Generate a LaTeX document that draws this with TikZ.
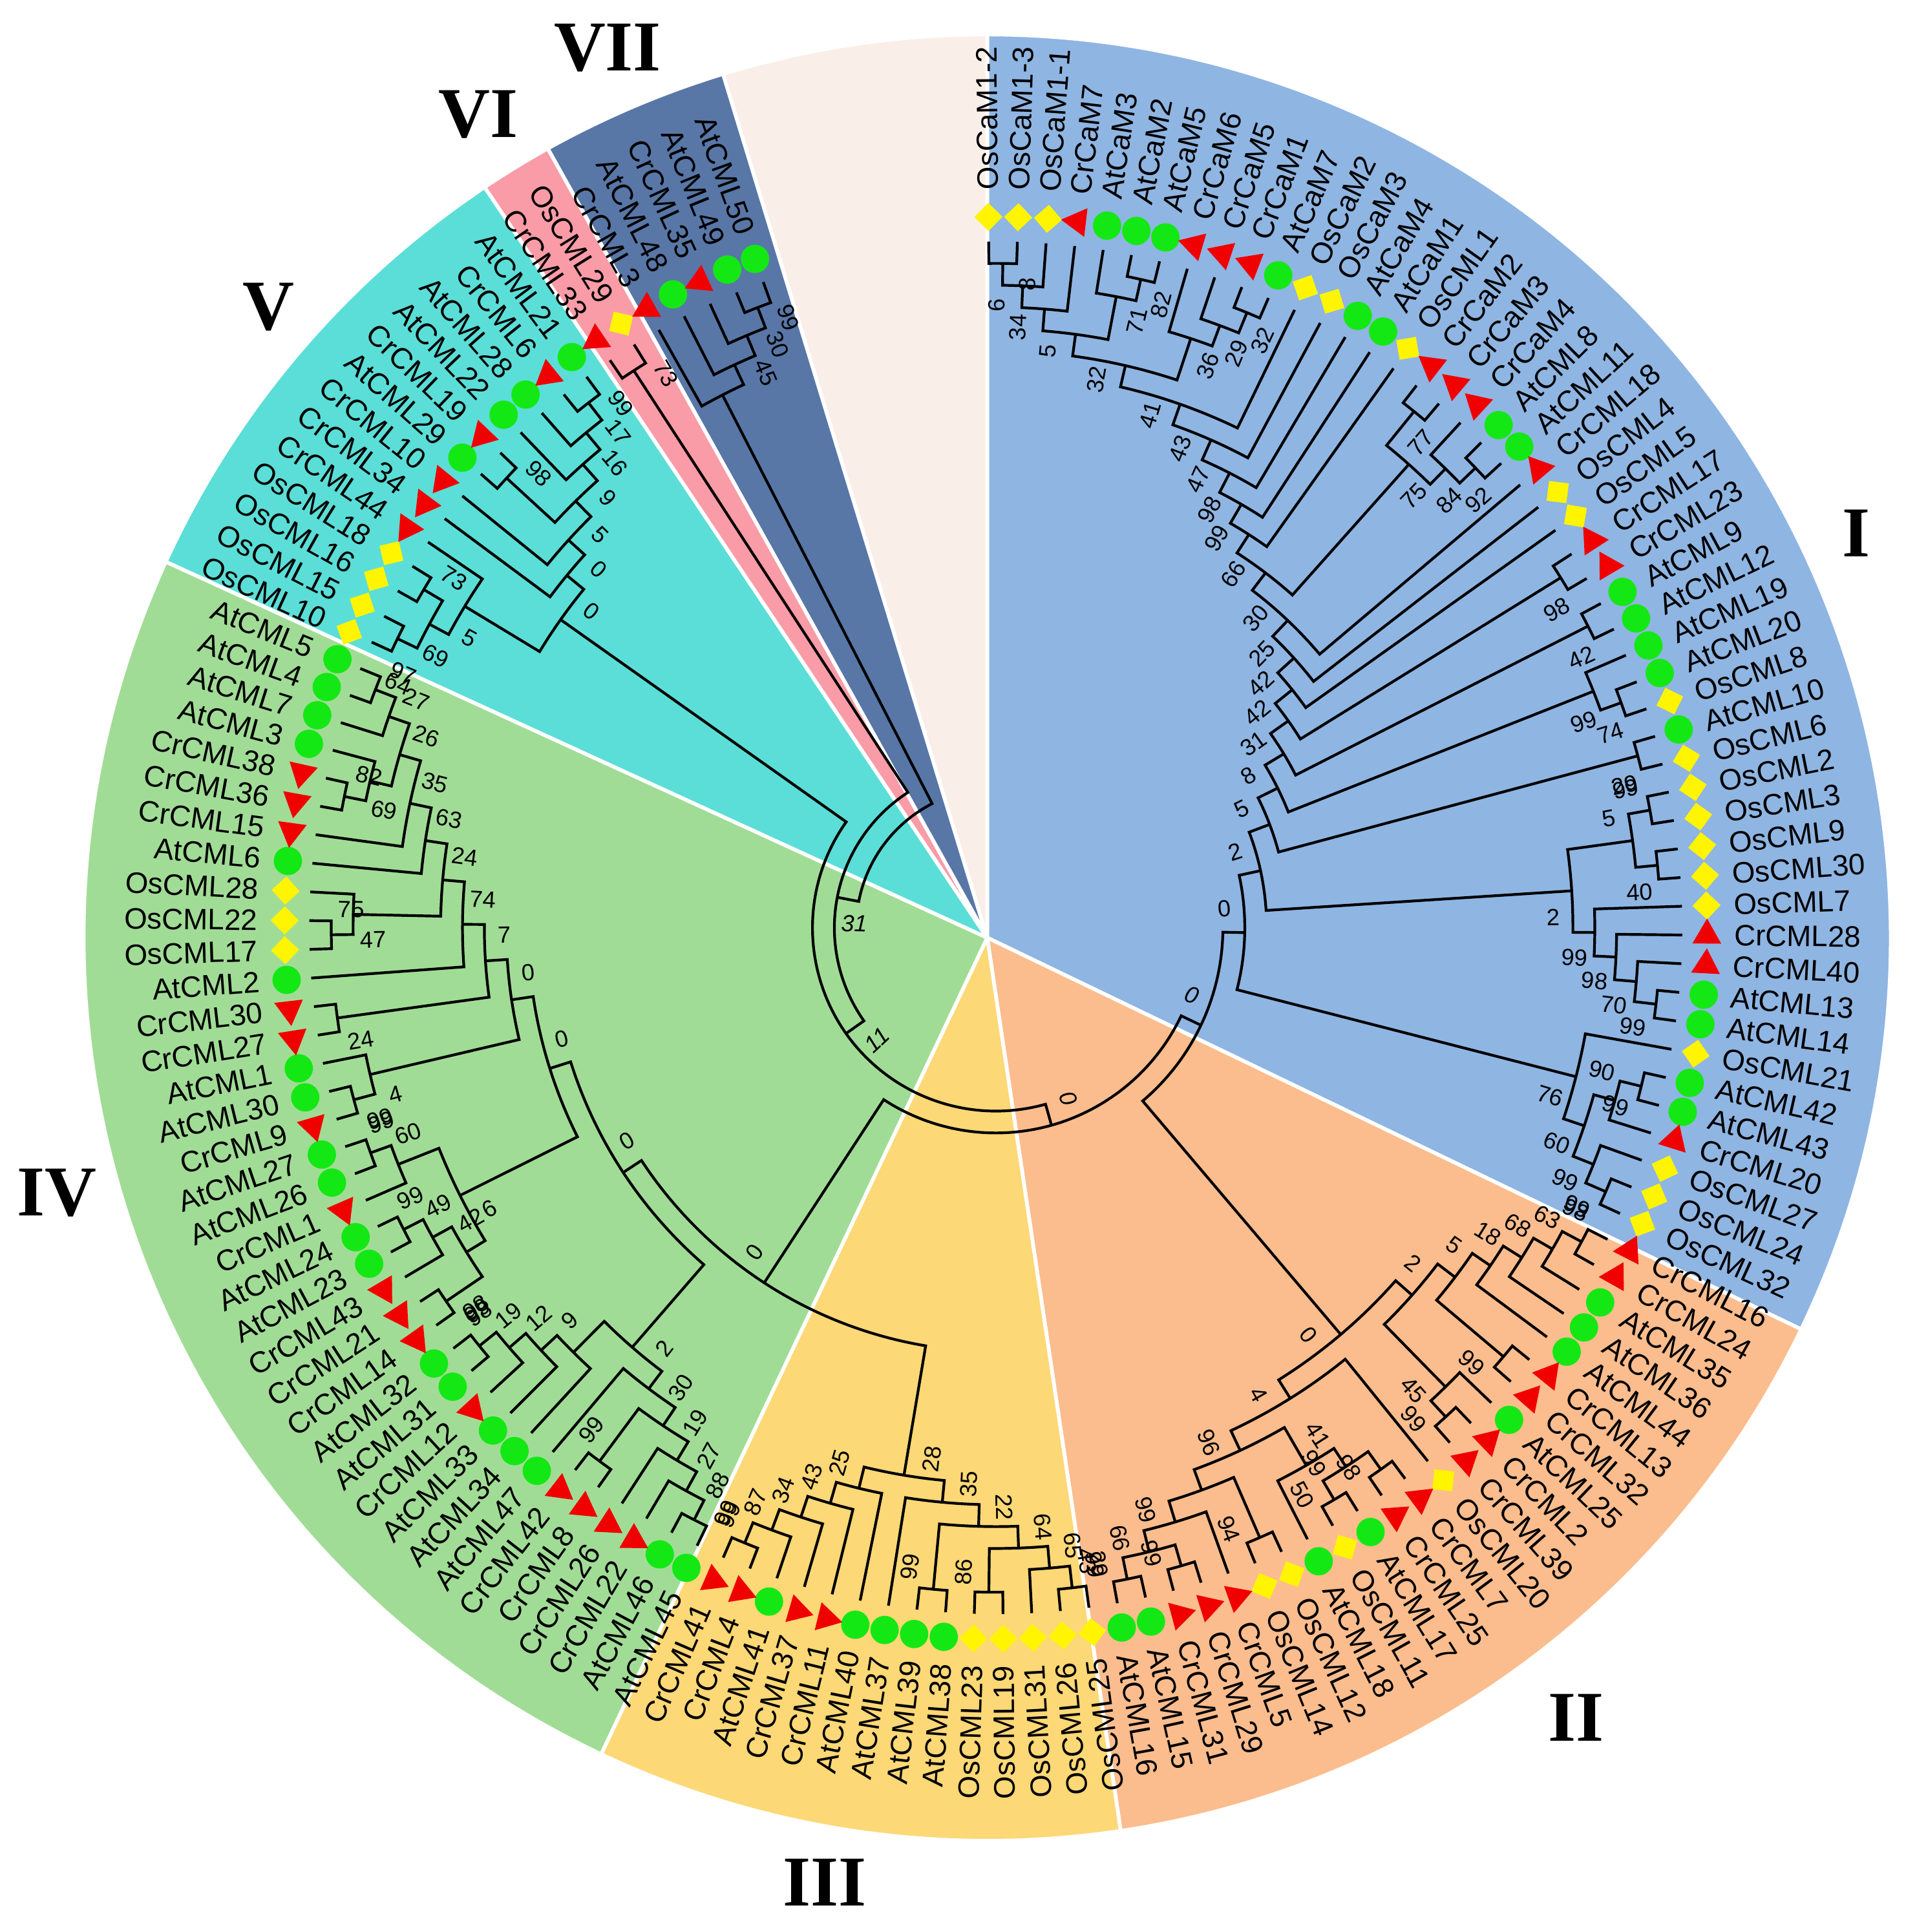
\documentclass[tikz,border=0pt]{standalone}
\usepackage{fontspec}
\setmainfont{Liberation Sans}
\newfontfamily\romanfont{Liberation Serif}
\usetikzlibrary{shapes.geometric}
\definecolor{cI}{RGB}{143,181,226}
\definecolor{cII}{RGB}{251,189,142}
\definecolor{cIII}{RGB}{253,216,118}
\definecolor{cIV}{RGB}{161,220,150}
\definecolor{cV}{RGB}{91,222,215}
\definecolor{cVI}{RGB}{249,156,167}
\definecolor{cVII}{RGB}{88,119,167}
\definecolor{cPale}{RGB}{250,238,233}
\definecolor{mkgreen}{RGB}{20,232,20}
\definecolor{mkred}{RGB}{240,0,0}
\definecolor{mkyellow}{RGB}{255,245,0}
\newcommand\tipR{557}
\newcommand\mkR{577}
\newcommand\lbR{599}
\newcommand\stp{17.75}
\newcommand\setv[3]{\expandafter\xdef\csname #1@#2\endcsname{#3}}
\newcommand\getv[2]{\csname #1@#2\endcsname}
\newcommand\leaf[3]{%
  \pgfmathsetmacro\la{90.6-2.4*#1}%
  \setv{A}{L#1}{\la}\setv{H}{L#1}{0}%
  \coordinate (L#1) at (\la:\tipR pt);
  \if g#2\node[mkg] (M#1) at (\la:\mkR pt) {};\fi
  \if r#2\node[mkr, rotate=\la] (M#1) at (\la:\mkR pt) {};\fi
  \if y#2\node[mky, rotate=\la] (M#1) at (\la:\mkR pt) {};\fi
  \pgfmathtruncatemacro\fl{\la<-81}%
  \ifnum\fl=1 \node[leaflab, anchor=east, rotate=\la+180] (T#1) at (\la:\lbR pt) {#3};%
  \else \node[leaflab, anchor=west, rotate=\la] (T#1) at (\la:\lbR pt) {#3};\fi
}
\newcommand\nd[4][0]{%
  \gdef\amin{1000}\gdef\amax{-1000}\gdef\hmax{-1}\gdef\tie{0}\gdef\abig{0}%
  \foreach \c in {#3}{%
    \edef\ca{\getv{A}{\c}}\edef\ch{\getv{H}{\c}}%
    \ifdim\ca pt<\amin pt \xdef\amin{\ca}\xdef\cmin{\c}\fi
    \ifdim\ca pt>\amax pt \xdef\amax{\ca}\xdef\cmax{\c}\fi
    \ifdim\ch pt>\hmax pt \xdef\hmax{\ch}\xdef\abig{\ca}\gdef\tie{0}%
    \else\ifdim\ch pt=\hmax pt \gdef\tie{1}\fi\fi
  }%
  \pgfmathsetmacro\nh{\hmax+1}%
  \pgfmathsetmacro\nr{\tipR-\nh*\stp}%
  \pgfmathsetmacro\na{(\amin+\amax)/2}%
  \setv{A}{#2}{\na}\setv{H}{#2}{\nh}%
  \coordinate (#2) at (\na:\nr pt);
  \draw[br] (\cmin) -- (\amin:\nr pt) arc[start angle=\amin, end angle=\amax, radius=\nr pt] -- (\cmax);
  \ifnum#1=0
    \ifnum\tie=1 \def\dir{-1}\else\ifdim\abig pt>\na pt \def\dir{1}\else\def\dir{-1}\fi\fi
  \else\def\dir{#1}\fi
  \pgfmathsetmacro\lla{\na+\dir*21/\nr*57.29578}%
  \pgfmathsetmacro\llr{\nr-16}%
  \pgfmathtruncatemacro\fl{\lla<-90}%
  \ifnum\fl=1 \pgfmathsetmacro\rot{\lla+180}\else\pgfmathsetmacro\rot{\lla}\fi
  \node[bslab, rotate=\rot] (B#2) at (\lla:\llr pt) {#4};
}
\newcommand\csector[3]{\filldraw[fill=#1, draw=white, line width=3pt, line join=round] (apex) -- ++(#2:733pt) arc[start angle=#2, end angle=#3, radius=733pt] -- cycle;}
\begin{document}
\begin{tikzpicture}[x=1pt,y=1pt,
  br/.style={draw=black, line width=2.2pt},
  mkg/.style={circle, fill=mkgreen, minimum size=23pt, inner sep=0pt},
  mkr/.style={regular polygon, regular polygon sides=3, fill=mkred, minimum size=27pt, inner sep=0pt},
  mky/.style={diamond, aspect=1, fill=mkyellow, minimum size=23pt, inner sep=0pt},
  leaflab/.style={font=\fontsize{24}{28}\selectfont, inner sep=0pt},
  bslab/.style={font=\fontsize{19}{22}\selectfont, inner sep=0pt},
  roman/.style={font=\romanfont\bfseries\fontsize{58}{60}\selectfont, inner sep=0pt}]
\useasboundingbox (-808,-815) rectangle (738,753);
\coordinate (apex) at (-7,-8);
\csector{cI}{-25.7}{90}
\csector{cII}{-81.5}{-25.7}
\csector{cIII}{-115.3}{-81.5}
\csector{cIV}{-204.6}{-115.3}
\csector{cV}{-236.2}{-204.6}
\csector{cVI}{-240.9}{-236.2}
\csector{cVII}{-253}{-240.9}
\csector{cPale}{-270}{-253}
% leaves
\leaf{0}{y}{OsCaM1-2}
\leaf{1}{y}{OsCaM1-3}
\leaf{2}{y}{OsCaM1-1}
\leaf{3}{r}{CrCaM7}
\leaf{4}{g}{AtCaM3}
\leaf{5}{g}{AtCaM2}
\leaf{6}{g}{AtCaM5}
\leaf{7}{r}{CrCaM6}
\leaf{8}{r}{CrCaM5}
\leaf{9}{r}{CrCaM1}
\leaf{10}{g}{AtCaM7}
\leaf{11}{y}{OsCaM2}
\leaf{12}{y}{OsCaM3}
\leaf{13}{g}{AtCaM4}
\leaf{14}{g}{AtCaM1}
\leaf{15}{y}{OsCML1}
\leaf{16}{r}{CrCaM2}
\leaf{17}{r}{CrCaM3}
\leaf{18}{r}{CrCaM4}
\leaf{19}{g}{AtCML8}
\leaf{20}{g}{AtCML11}
\leaf{21}{r}{CrCML18}
\leaf{22}{y}{OsCML4}
\leaf{23}{y}{OsCML5}
\leaf{24}{r}{CrCML17}
\leaf{25}{r}{CrCML23}
\leaf{26}{g}{AtCML9}
\leaf{27}{g}{AtCML12}
\leaf{28}{g}{AtCML19}
\leaf{29}{g}{AtCML20}
\leaf{30}{y}{OsCML8}
\leaf{31}{g}{AtCML10}
\leaf{32}{y}{OsCML6}
\leaf{33}{y}{OsCML2}
\leaf{34}{y}{OsCML3}
\leaf{35}{y}{OsCML9}
\leaf{36}{y}{OsCML30}
\leaf{37}{y}{OsCML7}
\leaf{38}{r}{CrCML28}
\leaf{39}{r}{CrCML40}
\leaf{40}{g}{AtCML13}
\leaf{41}{g}{AtCML14}
\leaf{42}{y}{OsCML21}
\leaf{43}{g}{AtCML42}
\leaf{44}{g}{AtCML43}
\leaf{45}{r}{CrCML20}
\leaf{46}{y}{OsCML27}
\leaf{47}{y}{OsCML24}
\leaf{48}{y}{OsCML32}
\leaf{49}{r}{CrCML16}
\leaf{50}{r}{CrCML24}
\leaf{51}{g}{AtCML35}
\leaf{52}{g}{AtCML36}
\leaf{53}{g}{AtCML44}
\leaf{54}{r}{CrCML13}
\leaf{55}{r}{CrCML32}
\leaf{56}{g}{AtCML25}
\leaf{57}{r}{CrCML2}
\leaf{58}{r}{CrCML39}
\leaf{59}{y}{OsCML20}
\leaf{60}{r}{CrCML7}
\leaf{61}{r}{CrCML25}
\leaf{62}{g}{AtCML17}
\leaf{63}{y}{OsCML11}
\leaf{64}{g}{AtCML18}
\leaf{65}{y}{OsCML12}
\leaf{66}{y}{OsCML14}
\leaf{67}{r}{CrCML5}
\leaf{68}{r}{CrCML29}
\leaf{69}{r}{CrCML31}
\leaf{70}{g}{AtCML15}
\leaf{71}{g}{AtCML16}
\leaf{72}{y}{OsCML25}
\leaf{73}{y}{OsCML26}
\leaf{74}{y}{OsCML31}
\leaf{75}{y}{OsCML19}
\leaf{76}{y}{OsCML23}
\leaf{77}{g}{AtCML38}
\leaf{78}{g}{AtCML39}
\leaf{79}{g}{AtCML37}
\leaf{80}{g}{AtCML40}
\leaf{81}{r}{CrCML11}
\leaf{82}{r}{CrCML37}
\leaf{83}{g}{AtCML41}
\leaf{84}{r}{CrCML4}
\leaf{85}{r}{CrCML41}
\leaf{86}{g}{AtCML45}
\leaf{87}{g}{AtCML46}
\leaf{88}{r}{CrCML22}
\leaf{89}{r}{CrCML26}
\leaf{90}{r}{CrCML8}
\leaf{91}{r}{CrCML42}
\leaf{92}{g}{AtCML47}
\leaf{93}{g}{AtCML34}
\leaf{94}{g}{AtCML33}
\leaf{95}{r}{CrCML12}
\leaf{96}{g}{AtCML31}
\leaf{97}{g}{AtCML32}
\leaf{98}{r}{CrCML14}
\leaf{99}{r}{CrCML21}
\leaf{100}{r}{CrCML43}
\leaf{101}{g}{AtCML23}
\leaf{102}{g}{AtCML24}
\leaf{103}{r}{CrCML1}
\leaf{104}{g}{AtCML26}
\leaf{105}{g}{AtCML27}
\leaf{106}{r}{CrCML9}
\leaf{107}{g}{AtCML30}
\leaf{108}{g}{AtCML1}
\leaf{109}{r}{CrCML27}
\leaf{110}{r}{CrCML30}
\leaf{111}{g}{AtCML2}
\leaf{112}{y}{OsCML17}
\leaf{113}{y}{OsCML22}
\leaf{114}{y}{OsCML28}
\leaf{115}{g}{AtCML6}
\leaf{116}{r}{CrCML15}
\leaf{117}{r}{CrCML36}
\leaf{118}{r}{CrCML38}
\leaf{119}{g}{AtCML3}
\leaf{120}{g}{AtCML7}
\leaf{121}{g}{AtCML4}
\leaf{122}{g}{AtCML5}
\leaf{123}{y}{OsCML10}
\leaf{124}{y}{OsCML15}
\leaf{125}{y}{OsCML16}
\leaf{126}{y}{OsCML18}
\leaf{127}{r}{CrCML44}
\leaf{128}{r}{CrCML34}
\leaf{129}{r}{CrCML10}
\leaf{130}{g}{AtCML29}
\leaf{131}{r}{CrCML19}
\leaf{132}{g}{AtCML22}
\leaf{133}{g}{AtCML28}
\leaf{134}{r}{CrCML6}
\leaf{135}{g}{AtCML21}
\leaf{136}{r}{CrCML33}
\leaf{137}{y}{OsCML29}
\leaf{138}{r}{CrCML3}
\leaf{139}{g}{AtCML48}
\leaf{140}{r}{CrCML35}
\leaf{141}{g}{AtCML49}
\leaf{142}{g}{AtCML50}
% clade I
\nd{a8}{L0,L1}{8}
\nd{a6}{a8,L2}{6}
\nd{a34}{a6,L3}{34}
\nd{a82}{L5,L6}{82}
\nd{a71}{L4,a82}{71}
\nd{a5}{a34,a71}{5}
\nd{a32b}{L9,L10}{32}
\nd{a29}{L8,a32b}{29}
\nd{a36}{L7,a29}{36}
\nd{a32}{a5,a36}{32}
\nd{a41}{a32,L11}{41}
\nd{a43}{a41,L12}{43}
\nd{a47}{a43,L13}{47}
\nd{a98}{a47,L14}{98}
\nd{a99}{a98,L15}{99}
\nd{n77}{L16,L17}{77}
\nd{n92}{L19,L20}{92}
\nd{n84}{L18,n92}{84}
\nd{n75}{n77,n84}{75}
\nd{a66}{a99,n75}{66}
\nd{a30}{a66,L21}{30}
\nd{a25}{a30,L22}{25}
\nd{a42}{a25,L23}{42}
\nd{p98}{L24,L25}{98}
\nd{a42b}{a42,p98}{42}
\nd{p42}{L26,L27}{42}
\nd{a31}{a42b,p42}{31}
\nd{n74}{L29,L30}{74}
\nd{n99}{L28,n74}{99}
\nd{a8b}{a31,n99}{8}
\nd{nE}{L31,L32}{29}
\nd{a5b}{a8b,nE}{5}
\nd[1]{nA}{L33,L34}{99}
\nd{nB}{L35,L36}{40}
\nd[1]{nC}{nA,nB}{5}
\nd{m99a}{L40,L41}{99}
\nd{m70}{L39,m99a}{70}
\nd{m98}{L38,m70}{98}
\nd{m99}{L37,m98}{99}
\nd{nD}{nC,m99}{2}
\nd{a2}{a5b,nD}{2}
\nd{o99a}{L47,L48}{99}
\nd{o99b}{L46,o99a}{99}
\nd{o99c}{L43,L44}{99}
\nd{o90}{o99c,L45}{90}
\nd{o60}{o90,o99b}{60}
\nd{o76}{L42,o60}{76}
\nd{Iroot}{a2,o76}{0}
% clade II
\nd[1]{p1}{L49,L50}{98}
\nd{p2}{p1,L51}{63}
\nd{p3}{p2,L52}{68}
\nd{p4}{p3,L53}{18}
\nd{p5}{L54,L55}{99}
\nd{p6}{p4,p5}{5}
\nd{p7}{L57,L58}{99}
\nd{p8}{L56,p7}{45}
\nd{p9}{p6,p8}{2}
\nd{q1}{L60,L61}{98}
\nd{q2}{L62,L63}{50}
\nd{q3}{q1,q2}{99}
\nd{q4}{q3,L64}{41}
\nd{r1}{L65,L66}{94}
\nd{r3}{L68,L69}{99}
\nd{r2}{L70,L71}{29}
\nd{r4}{r3,r2}{66}
\nd{r5}{L67,r4}{99}
\nd{s1}{r1,r5}{}
\nd{s2}{q4,s1}{96}
\nd{s3}{L59,s2}{4}
\nd{IIroot}{p9,s3}{0}
% clade III
\nd{u1}{L84,L85}{99}
\nd{u2}{L83,u1}{87}
\nd{u3}{L82,u2}{34}
\nd{u4}{L81,u3}{43}
\nd{u5}{L80,u4}{25}
\nd{v1}{L77,L78}{99}
\nd{v2}{L75,L76}{86}
\nd[1]{v3}{L72,L73}{99}
\nd{v4}{L74,v3}{65}
\nd{v5}{v2,v4}{64}
\nd{v6}{v1,v5}{22}
\nd{v7}{L79,v6}{35}
\nd[1]{IIIroot}{u5,v7}{28}
% clade IV
\nd{w1}{L121,L122}{97}
\nd{w2}{w1,L120}{27}
\nd{x1}{L117,L118}{82}
\nd{x2}{L119,x1}{69}
\nd{w3}{w2,x2}{26}
\nd{w4}{w3,L116}{35}
\nd{w5}{w4,L115}{63}
\nd{y1}{L112,L113}{75}
\nd{y2}{L114,y1}{47}
\nd{w6}{w5,y2}{24}
\nd{w7}{w6,L111}{74}
\nd[1]{y3}{L109,L110}{24}
\nd{w8}{w7,y3}{7}
\nd[1]{z1}{L106,L107}{99}
\nd{z2}{L108,z1}{4}
\nd{w9}{w8,z2}{0}
\nd{z3}{L104,L105}{99}
\nd{z4}{z3,L103}{60}
\nd{z5}{L101,L102}{99}
\nd{z6}{z5,L100}{49}
\nd[1]{z7}{L98,L99}{99}
\nd{z6b}{z6,z7}{42}
\nd{z8}{z4,z6b}{6}
\nd{IVa}{w9,z8}{0}
\nd{f1}{L96,L97}{98}
\nd{g1}{f1,L95}{19}
\nd{h1}{g1,L94}{12}
\nd{i1}{h1,L93}{9}
\nd[1]{ka}{L86,L87}{99}
\nd{kb}{L88,ka}{88}
\nd{kc}{L89,kb}{27}
\nd{kk}{L90,L91}{99}
\nd{kd}{kk,kc}{19}
\nd{ke}{L92,kd}{30}
\nd{km}{i1,ke}{2}
\nd{IVb}{IVa,km}{0}
\nd{IVIII}{IVb,IIIroot}{0}
% clade V
\nd{o1}{L125,L126}{73}
\nd{o2}{L123,L124}{}
\nd[1]{o3}{o1,o2}{69}
\nd{o4}{o3,L127}{5}
\nd{vv1}{L134,L135}{99}
\nd{vv2}{L133,vv1}{17}
\nd{vv3}{L132,vv2}{16}
\nd{vv4}{L130,L131}{98}
\nd{vv5}{vv4,vv3}{9}
\nd{vv6}{L129,vv5}{5}
\nd{vv7}{L128,vv6}{0}
\nd{Vroot}{o4,vv7}{0}
% clades VI and VII
\nd{VIroot}{L136,L137}{73}
\nd{s7a}{L141,L142}{99}
\nd{s7b}{s7a,L140}{30}
\nd{s7c}{s7b,L139}{45}
\nd{VIIroot}{s7c,L138}{}
% deep nodes
\nd{IandII}{Iroot,IIroot}{\itshape 0}
\nd{Dn}{IVIII,IandII}{\itshape 0}
\nd{En}{Vroot,Dn}{\itshape 11}
\nd{Fn}{VIroot,En}{\itshape 31}
\nd{Gn}{VIIroot,Fn}{}
% overlapping extra support values
\node[bslab, rotate=-23.1] (X1) at (-485,198) {64};
\node[bslab, rotate=-81.3] (X2) at (74,-514) {43};
\node[bslab, rotate=36.9] (X3) at (-422,-308) {98};
% clade numerals
\node[roman] (RI) at (698,320) {I};
\node[roman] (RII) at (471,-641) {II};
\node[roman] (RIII) at (-139,-775) {III};
\node[roman] (RIV) at (-762,-215) {IV};
\node[roman] (RV) at (-590,504) {V};
\node[roman] (RVI) at (-420,660) {VI};
\node[roman] (RVII) at (-315,714) {VII};
\end{tikzpicture}
\end{document}
